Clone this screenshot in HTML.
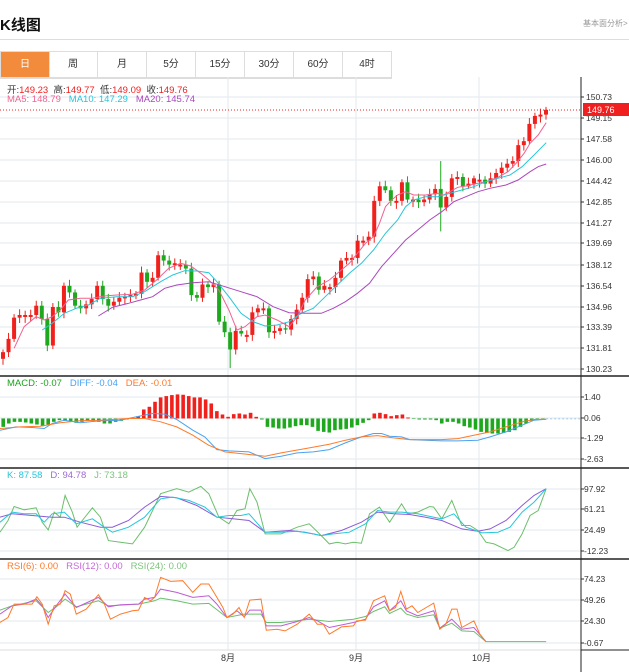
<!DOCTYPE html>
<html><head><meta charset="utf-8"><style>
body{margin:0;width:629px;height:672px;background:#fff;font-family:"Liberation Sans","Noto Sans CJK SC",sans-serif;overflow:hidden;position:relative}
.t{position:absolute;white-space:nowrap}
.tab{position:absolute;top:51px;height:25px;width:48px;border:1px solid #ddd;border-left:none;font-size:10px;line-height:25px;text-align:center;color:#333}
</style></head><body>
<div class="t" style="left:0;top:14px;font-size:15px;font-weight:bold;color:#111">K线图</div>
<div class="t" style="left:583px;top:18px;font-size:8px;color:#999">基本面分析&gt;</div>
<div style="position:absolute;left:0;top:39px;width:629px;height:1px;background:#ddd"></div>
<div style="position:absolute;left:0;top:51px;width:392px;height:26px;border-top:1px solid #ddd;border-bottom:1px solid #ddd"></div>
<div class="tab" style="left:0;background:#f28c3c;color:#fff;border-left:1px solid #ddd;width:48px">日</div>
<div class="tab" style="left:49px">周</div>
<div class="tab" style="left:98px">月</div>
<div class="tab" style="left:147px">5分</div>
<div class="tab" style="left:196px">15分</div>
<div class="tab" style="left:245px">30分</div>
<div class="tab" style="left:294px">60分</div>
<div class="tab" style="left:343px">4时</div>
<svg id="s" width="629" height="672" style="position:absolute;left:0;top:0" xmlns="http://www.w3.org/2000/svg" font-family="Liberation Sans, Noto Sans CJK SC, sans-serif"></svg>
<div class="t" style="left:7px;top:82px;font-size:9.5px;color:#333">开:<span style="color:#f02020">149.23</span>&nbsp; 高:<span style="color:#f02020">149.77</span>&nbsp; 低:<span style="color:#f02020">149.09</span>&nbsp; 收:<span style="color:#f02020">149.76</span></div>
<div class="t" style="left:7px;top:94px;font-size:9.5px"><span style="color:#f06292">MA5: 148.79</span>&nbsp;&nbsp; <span style="color:#26c6da">MA10: 147.29</span>&nbsp;&nbsp; <span style="color:#ab47bc">MA20: 145.74</span></div>
<div class="t" style="left:7px;top:378px;font-size:9.5px"><span style="color:#1aa51a">MACD: -0.07</span>&nbsp;&nbsp; <span style="color:#4aa3f0">DIFF: -0.04</span>&nbsp;&nbsp; <span style="color:#ff7a2a">DEA: -0.01</span></div>
<div class="t" style="left:7px;top:470px;font-size:9.5px"><span style="color:#26c6da">K: 87.58</span>&nbsp;&nbsp; <span style="color:#9c6ad6">D: 94.78</span>&nbsp;&nbsp; <span style="color:#7cc47c">J: 73.18</span></div>
<div class="t" style="left:7px;top:561px;font-size:9.5px"><span style="color:#ff7a2a">RSI(6): 0.00</span>&nbsp;&nbsp; <span style="color:#c76ad6">RSI(12): 0.00</span>&nbsp;&nbsp; <span style="color:#7cc47c">RSI(24): 0.00</span></div>
<script>
var s=document.getElementById('s'),h='';
function L(x1,y1,x2,y2,c,w,extra){h+='<line x1="'+x1+'" y1="'+y1+'" x2="'+x2+'" y2="'+y2+'" stroke="'+c+'" stroke-width="'+(w||1)+'" '+(extra||'')+'/>';}
function T(x,y,t,c,sz){h+='<text x="'+x+'" y="'+y+'" font-size="'+(sz||9)+'" fill="'+(c||'#333')+'">'+t+'</text>';}
var gc='#e3eaef';
// vertical grids
[228,356,479].forEach(function(x){L(x,77,x,650,gc);});
// horizontal grids & labels
var pl=[[150.73,97],[149.15,118],[147.58,139],[146.00,160],[144.42,181],[142.85,202],[141.27,223],[139.69,243],[138.12,265],[136.54,286],[134.96,307],[133.39,327],[131.81,348],[130.23,369]];
pl.forEach(function(p){L(0,p[1],581,p[1],gc);L(581,p[1],584,p[1],'#333');T(586,p[1]+3,p[0].toFixed(2),'#333',8.5);});
[[1.40,397],[0.06,418],[-1.29,438],[-2.63,459]].forEach(function(p){L(0,p[1],581,p[1],gc);L(581,p[1],584,p[1],'#333');T(584,p[1]+3,(p[0]<0?'-':'')+Math.abs(p[0]).toFixed(2),'#333',8.5);});
[[97.92,489],[61.21,509],[24.49,530],[-12.23,551]].forEach(function(p){L(0,p[1],581,p[1],gc);L(581,p[1],584,p[1],'#333');T(584,p[1]+3,(p[0]<0?'-':'')+Math.abs(p[0]).toFixed(2),'#333',8.5);});
[[74.23,579],[49.26,600],[24.30,621],[-0.67,643]].forEach(function(p){L(0,p[1],581,p[1],gc);L(581,p[1],584,p[1],'#333');T(584,p[1]+3,(p[0]<0?'-':'')+Math.abs(p[0]).toFixed(2),'#333',8.5);});
// panel separators
[376,468,559].forEach(function(y){L(0,y,629,y,'#222',1.5);});
L(0,650,581,650,'#ddd');L(581,650,629,650,'#222');
L(581,77,581,672,'#222');
T(221,661,'8月','#333',9);T(349,661,'9月','#333',9);T(472,661,'10月','#333',9);
// candles
var c=[131.5,132.5,134.1,134.3,134.3,134.3,135.0,134.0,132.0,134.9,134.5,136.5,136.0,135.0,134.8,135.1,135.5,136.5,135.5,135.0,135.3,135.6,135.7,135.8,135.9,137.5,136.8,137.1,138.8,138.4,138.1,138.2,138.1,137.8,135.8,135.6,136.6,136.4,136.6,133.8,133.0,131.7,133.1,132.9,132.8,134.5,134.8,134.8,133.0,133.1,133.3,133.2,134.0,134.7,135.6,137.0,137.2,136.2,136.5,136.4,137.1,138.4,138.6,138.6,139.9,139.9,140.2,142.9,144.0,143.7,142.9,142.9,144.3,143.0,143.0,142.8,143.0,143.4,143.8,142.4,143.2,144.6,144.7,144.0,144.2,144.6,144.5,144.2,144.6,145.0,145.4,145.7,145.9,147.1,147.4,148.7,149.3,149.4,149.76];
var n=c.length,dx=543/(n-1);
function Y(p){return 369-(p-130.23)*13.27;}
for(var i=0;i<n;i++){
 var o=i?c[i-1]:131.0;var cl=c[i];
 if(Math.abs(cl-o)<0.1)o=cl-0.15;
 var hi=Math.max(o,cl)+0.2+0.25*Math.abs(Math.sin(i*1.7)),lo=Math.min(o,cl)-0.2-0.25*Math.abs(Math.cos(i*2.3));
 if(i==79){hi=145.9;lo=140.6;} if(i==41)lo=130.3;
 var col=cl>=o?'#f0201c':'#1ea81e',x=3+dx*i;
 L(x,Y(hi),x,Y(lo),col,1);
 var y1=Y(Math.max(o,cl)),y2=Y(Math.min(o,cl));
 h+='<rect x="'+(x-2)+'" y="'+y1+'" width="4" height="'+Math.max(1,y2-y1)+'" fill="'+col+'"/>';
}
// price current line
L(0,110,581,110,'#f02020',1,'stroke-dasharray="1,2"');
h+='<rect x="583" y="103" width="46" height="13" fill="#f02020"/>';T(587,113,'149.76','#fff',9);
function P(pts,col,sx,sy,oy){var d=pts.map(function(p){return (p[0]/2.49).toFixed(1)+','+(oy+p[1]/sy).toFixed(1);}).join(' ');h+='<polyline points="'+d+'" fill="none" stroke="'+col+'" stroke-width="1"/>';}
P([[35,745],[60,680],[90,650],[110,660],[130,650],[150,630],[170,600],[200,595],[230,595],[260,588],[290,585],[330,583],[360,570],[390,540],[420,505],[450,490],[475,498],[500,520],[520,540],[545,570],[570,630],[590,690],[610,680],[640,650],[660,645],[690,660],[720,680],[740,650],[760,600],[790,560],[820,540],[850,510],[870,490],[890,460],[910,430],[930,410],[945,370],[960,320],[975,300],[990,285],[1010,275],[1030,285],[1060,285],[1090,280],[1105,285],[1120,275],[1140,262],[1160,258],[1190,250],[1210,245],[1240,232],[1265,215],[1285,190],[1305,160],[1320,130],[1340,105],[1360,68]],'#f06292',2.49,3,100);
P([[105,690],[130,670],[160,640],[190,625],[220,615],[250,595],[290,590],[330,590],[360,575],[400,545],[430,525],[460,512],[490,513],[520,518],[540,545],[570,590],[600,640],[630,665],[660,678],[690,675],[720,665],[750,640],[780,625],[810,590],[840,555],[870,520],[900,490],[930,450],[960,400],[990,360],[1010,320],[1030,300],[1060,290],[1090,290],[1120,280],[1150,270],[1180,260],[1210,245],[1240,235],[1270,225],[1300,200],[1330,165],[1360,128]],'#26c6da',2.49,3,100);
P([[245,648],[280,622],[320,610],[350,600],[380,590],[410,565],[440,555],[480,548],[520,545],[560,560],[600,575],[640,590],[680,620],[720,638],[760,640],[800,640],[830,625],[860,605],[890,580],[920,550],[950,500],[980,460],[1010,420],[1040,390],[1070,360],[1100,335],[1130,305],[1160,290],[1190,275],[1220,265],[1260,255],[1290,240],[1320,215],[1340,200],[1360,192]],'#ab47bc',2.49,3,100);
// MACD bars
var mb=[170,160,155,155,157,160,163,168,163,155,150,152,153,158,155,152,152,155,160,160,155,152,148,145,138,118,110,95,82,78,75,73,74,78,82,82,88,100,123,133,140,132,130,133,128,140,148,170,172,175,175,172,168,165,165,170,182,185,187,180,178,176,172,165,158,150,130,128,132,138,135,133,142,145,148,148,148,150,160,155,155,160,168,172,178,185,188,190,190,188,185,180,170,160,152,148,146];
var sy=2.99,oy=370;
mb.forEach(function(v,i){var x=(8+14*i)/2.49,y0=oy+145/sy,y1=oy+v/sy;var col=v<145?'#f0201c':'#1ea81e';h+='<rect x="'+(x-1.8)+'" y="'+Math.min(y0,y1)+'" width="3.6" height="'+Math.max(0.5,Math.abs(y1-y0))+'" fill="'+col+'"/>';});
P([[0,180],[40,170],[80,172],[110,175],[130,160],[160,150],[200,158],[250,152],[300,150],[340,140],[380,130],[410,132],[440,148],[480,180],[510,200],[540,238],[570,242],[620,245],[660,265],[700,258],[740,248],[780,245],[820,238],[860,218],[900,200],[930,190],[950,190],[970,198],[1000,200],[1020,208],[1060,210],[1100,212],[1140,212],[1190,210],[1220,200],[1260,185],[1300,165],[1330,150],[1360,147]],'#4aa3f0',2.49,sy,oy);
P([[0,175],[50,170],[100,168],[150,158],[200,152],[250,150],[320,145],[360,145],[400,155],[440,170],[480,195],[520,225],[560,245],[600,250],[660,258],[700,248],[760,235],[820,222],[860,210],[900,200],[940,196],[980,203],[1020,208],[1100,208],[1140,205],[1180,195],[1220,185],[1260,170],[1300,155],[1330,148],[1360,147]],'#ff7a2a',2.49,sy,oy);
L(1360/2.49,oy+146/sy,580,oy+146/sy,'#9fd0f0',1,'stroke-dasharray="2,2"');
// KDJ
P([[0,485],[20,450],[35,408],[60,418],[90,412],[105,455],[120,478],[135,425],[150,440],[162,375],[180,425],[192,470],[205,450],[230,412],[250,440],[270,510],[300,515],[330,520],[360,470],[380,420],[400,370],[440,355],[470,365],[500,348],[520,370],[545,440],[570,460],[590,420],[610,415],[622,355],[640,395],[660,490],[700,490],[740,470],[770,460],[800,495],[820,520],[840,515],[860,520],[880,515],[900,518],[920,430],[945,410],[970,455],[1000,400],[1015,430],[1040,425],[1070,408],[1080,410],[1100,445],[1125,390],[1150,465],[1170,465],[1190,480],[1210,515],[1230,520],[1265,540],[1280,530],[1300,490],[1320,435],[1340,420],[1360,355]],'#6cbf6c',2.49,sy,oy);
P([[0,440],[30,430],[80,435],[130,440],[160,440],[200,455],[250,470],[280,470],[320,450],[360,410],[400,378],[440,382],[490,405],[540,440],[580,445],[620,450],[660,485],[720,480],[760,485],[800,495],[850,480],[900,455],[940,425],[980,430],[1020,432],[1060,440],[1100,450],[1150,475],[1190,482],[1220,475],[1260,450],[1300,405],[1330,375],[1360,355]],'#8e5bd6',2.49,sy,oy);
P([[0,455],[30,425],[60,430],[90,430],[110,455],[130,430],[160,425],[190,460],[230,445],[260,470],[280,485],[320,470],[360,440],[400,385],[430,380],[470,390],[510,410],[540,440],[570,435],[600,435],[620,430],[660,485],[700,485],[740,482],[780,490],[800,495],[830,490],[870,485],[910,460],[940,420],[970,425],[1000,425],[1040,430],[1080,440],[1100,445],[1130,430],[1160,470],[1180,478],[1200,487],[1240,485],[1270,470],[1300,425],[1330,395],[1360,355]],'#26c6da',2.49,sy,oy);
// RSI
P([[0,718],[30,705],[90,690],[120,725],[140,708],[162,685],[190,708],[245,690],[270,705],[345,700],[385,690],[400,682],[440,690],[480,700],[520,698],[565,740],[608,730],[650,730],[663,755],[700,755],[740,750],[770,745],[820,752],[880,745],[910,737],[930,722],[958,708],[970,728],[998,712],[1012,730],[1040,740],[1080,732],[1095,772],[1125,757],[1150,780],[1180,782],[1210,812],[1360,812]],'#6cbf6c',2.49,sy,oy);
P([[0,730],[30,705],[60,700],[90,685],[105,705],[120,740],[140,705],[162,670],[190,710],[245,680],[270,708],[300,702],[345,700],[360,685],[385,680],[400,655],[440,665],[480,680],[520,675],[540,700],[565,740],[590,720],[608,738],[622,718],[650,718],[663,765],[700,765],[740,752],[770,740],[790,750],[820,770],[880,755],[910,745],[930,708],[958,690],[970,720],[998,690],[1012,720],[1040,735],[1080,720],[1095,772],[1125,745],[1150,775],[1180,770],[1210,812]],'#c05ad6',2.49,sy,oy);
P([[0,755],[20,740],[35,700],[60,700],[80,700],[92,678],[105,700],[120,760],[135,705],[150,700],[162,660],[175,670],[190,730],[215,715],[245,672],[260,700],[275,745],[300,730],[330,720],[345,718],[360,680],[375,690],[385,680],[400,620],[425,632],[455,630],[480,665],[500,640],[520,640],[540,680],[555,710],[565,740],[580,730],[595,710],[608,740],[622,688],[650,685],[663,778],[690,775],[710,780],[740,760],[770,730],[790,760],[805,760],[820,790],[850,768],[880,765],[888,750],[910,748],[930,690],[958,675],[970,720],[985,710],[998,662],[1012,715],[1026,705],[1040,725],[1080,697],[1095,775],[1110,760],[1125,715],[1138,715],[1150,770],[1180,750],[1195,790],[1210,812]],'#ff7a2a',2.49,sy,oy);
s.innerHTML=h;
</script>
</body></html>
